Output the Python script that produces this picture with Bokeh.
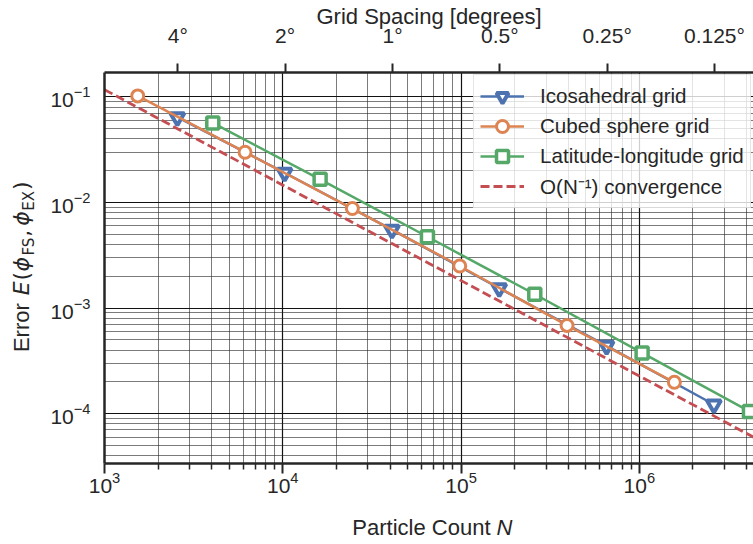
import math
from bokeh.plotting import figure
from bokeh.layouts import row, column
from bokeh.models import (Range1d, LogAxis, FixedTicker, CustomJSTickFormatter,
                          Legend, LegendItem)
from bokeh.core.properties import value
from bokeh.embed import file_html
from bokeh.resources import INLINE

# ---------------- data ----------------
ico_N = [2562, 10242, 40962, 163842, 655362, 2621442]
ico_E = [0.0641, 0.0191, 0.00552, 0.00154, 0.000438, 0.000122]

cube_N = [1536, 6144, 24576, 98304, 393216, 1572864]
cube_E = [0.102, 0.0299, 0.00875, 0.00250, 0.000684, 0.000198]

ll_N = [4050, 16200, 64800, 259200, 1036800, 4147200]
ll_E = [0.0566, 0.01656, 0.00473, 0.00135, 0.000376, 0.000105]

ref_N = [1e3, 1e6, 5e6]
ref_E = [0.117, 2.27e-4, 5.3e-5]

grid_deg = [4, 2, 1, 0.5, 0.25, 0.125]
grid_deg_labels = ["4°", "2°", "1°", "0.5°", "0.25°", "0.125°"]

x_major = [1e3, 1e4, 1e5, 1e6]
y_major = [1e-4, 1e-3, 1e-2, 1e-1]

series_names = ["Icosahedral grid", "Cubed sphere grid",
                "Latitude-longitude grid", "O(N⁻¹) convergence"]

# ---------------- style ----------------
TEXT = "#262626"
FONT = "Liberation Sans"
MATH = "DejaVu Sans"
BLUE, ORANGE, GREEN, RED = "#4C72B0", "#DD8452", "#55A868", "#C44E52"

W, H = 753, 544
YLAB_W = 46          # strip on the left holding the y-axis title
XLAB_H = 34          # strip at the bottom holding the x-axis title
MAIN_W, MAIN_H = W - YLAB_W, H - XLAB_H
FRAME_TOP, FRAME_BOTTOM = 70, 463

x_minor = [k * 10 ** e for e in range(3, 7) for k in range(2, 10)]
y_minor = [k * 10.0 ** e for e in range(-5, 0) for k in range(2, 10)]
# particle count equivalent of a grid spacing (sphere area / spacing^2)
deg_N = [4 * math.pi * (180 / math.pi) ** 2 / d ** 2 for d in grid_deg]

p = figure(width=MAIN_W, height=MAIN_H, x_axis_type="log", y_axis_type="log",
           x_range=Range1d(1e3, 4.37e6), y_range=Range1d(3.37e-5, 0.170),
           output_backend="svg", toolbar_location=None,
           min_border_left=104 - YLAB_W, min_border_right=0,
           min_border_top=FRAME_TOP, min_border_bottom=MAIN_H - FRAME_BOTTOM,
           background_fill_color="white", border_fill_color="white")
p.outline_line_color = None

bottom = p.below[0]
left = p.left[0]
bottom.ticker = FixedTicker(ticks=x_major, minor_ticks=x_minor)
left.ticker = FixedTicker(ticks=y_major, minor_ticks=y_minor)

for ax in (bottom, left):
    ax.axis_line_color = TEXT
    ax.axis_line_width = 2.5
    ax.major_label_text_font = FONT
    ax.major_label_text_font_size = "21px"
    ax.major_label_text_color = TEXT
    ax.major_tick_line_color = TEXT
    ax.minor_tick_line_color = TEXT

bottom.major_tick_in = 0
bottom.major_tick_out = 10
bottom.minor_tick_in = 0
bottom.minor_tick_out = 6
bottom.major_tick_line_width = 2
bottom.minor_tick_line_width = 1.5
bottom.major_label_standoff = -2

left.major_tick_in = 0
left.major_tick_out = 0
left.minor_tick_in = 0
left.minor_tick_out = 0
left.major_label_standoff = 14

top = LogAxis(
    ticker=FixedTicker(ticks=deg_N, minor_ticks=[]),
    formatter=CustomJSTickFormatter(args=dict(t=deg_N, l=grid_deg_labels), code="""
        for (let i = 0; i < t.length; i++) {
            if (Math.abs(t[i] - tick) < 1e-6 * t[i]) { return l[i]; }
        }
        return "";
    """),
    axis_label="Grid Spacing [degrees]")
top.axis_line_color = TEXT
top.axis_line_width = 2.5
top.major_tick_in = 0
top.major_tick_out = 9
top.major_tick_line_width = 2
top.major_tick_line_color = TEXT
top.minor_tick_line_color = None
top.major_label_text_font = FONT
top.major_label_text_font_size = "21px"
top.major_label_text_color = TEXT
top.major_label_standoff = 17
top.axis_label_text_font = FONT
top.axis_label_text_font_size = "22px"
top.axis_label_text_font_style = "normal"
top.axis_label_text_color = TEXT
top.axis_label_standoff = -8
p.add_layout(top, "above")

# grids
for g in (p.xgrid[0], p.ygrid[0]):
    g.grid_line_color = "#111111"
    g.grid_line_width = 1.2
    g.minor_grid_line_color = "#222222"
    g.minor_grid_line_width = 0.8
    g.minor_grid_line_alpha = 0.75

# ---------------- series ----------------
l1 = p.line(ico_N, ico_E, line_color=BLUE, line_width=2.5)
m1 = p.scatter(ico_N, ico_E, marker="inverted_triangle", size=14,
               line_color=BLUE, line_width=4, fill_color="white")
l2 = p.line(cube_N, cube_E, line_color=ORANGE, line_width=2.5)
m2 = p.scatter(cube_N, cube_E, marker="circle", size=12,
               line_color=ORANGE, line_width=3, fill_color="white")
l3 = p.line(ll_N, ll_E, line_color=GREEN, line_width=2.5)
m3 = p.scatter(ll_N, ll_E, marker="square", size=12,
               line_color=GREEN, line_width=3.5, fill_color="white")
l4 = p.line(ref_N, ref_E, line_color=RED, line_width=2.8, line_dash="9 4")

legend = Legend(items=[
    LegendItem(label=series_names[0], renderers=[l1, m1]),
    LegendItem(label=series_names[1], renderers=[l2, m2]),
    LegendItem(label=series_names[2], renderers=[l3, m3]),
    LegendItem(label=series_names[3], renderers=[l4]),
], location=(369, 255), margin=0, padding=6, spacing=0,
   glyph_width=44, glyph_height=30, label_standoff=16,
   label_text_font=FONT, label_text_font_size="20.6px", label_text_color=TEXT,
   border_line_color="#cccccc", border_line_width=1,
   background_fill_color="white", background_fill_alpha=0.8)
p.add_layout(legend)


# ---------------- axis titles (mixed styles) in side strips ----------------
def strip(w, h, y0, y1):
    f = figure(width=w, height=h, x_range=Range1d(0, w), y_range=Range1d(y1, y0),
               output_backend="svg", toolbar_location=None,
               x_axis_location=None, y_axis_location=None,
               min_border=0, background_fill_color="white",
               border_fill_color="white")
    f.outline_line_color = None
    f.grid.visible = False
    return f


def put(f, text, x, y, size, font, style, angle=0.0, align="left"):
    f.text(x=[x], y=[y], text=[text], angle=angle, text_align=align,
           text_baseline="middle", text_font=value(font),
           text_font_size=value(size), text_font_style=value(style),
           text_color=TEXT)


# the strip's frame is aligned with the main frame, so its y range is the
# frame's pixel rows (counted from the top of the page)
yfig = strip(YLAB_W, MAIN_H, FRAME_TOP, FRAME_BOTTOM)
# (text, start along the axis in px from top, font, style, subscript)
ylab = [("Error", 351, FONT, "normal", False),
        ("E", 294, MATH, "italic", False),
        ("(", 279, MATH, "normal", False),
        ("ϕ", 270, MATH, "italic", False),
        ("FS", 254, MATH, "normal", True),
        (",", 235, MATH, "normal", False),
        ("ϕ", 224, MATH, "italic", False),
        ("EX", 209, MATH, "normal", True),
        (")", 188, MATH, "normal", False)]
for t, pos, f, st, sub in ylab:
    put(yfig, t, 28 if sub else 21, pos, "15px" if sub else "22px", f, st,
        angle=math.pi / 2)

xfig = strip(W, XLAB_H, MAIN_H, H)
put(xfig, "Particle Count", 490, 527, "22px", FONT, "normal", align="right")
put(xfig, "N", 496, 527, "22px", FONT, "italic")

layout = column(row(yfig, p, spacing=0), xfig, spacing=0)
open("out.html", "w").write(file_html(layout, INLINE))
